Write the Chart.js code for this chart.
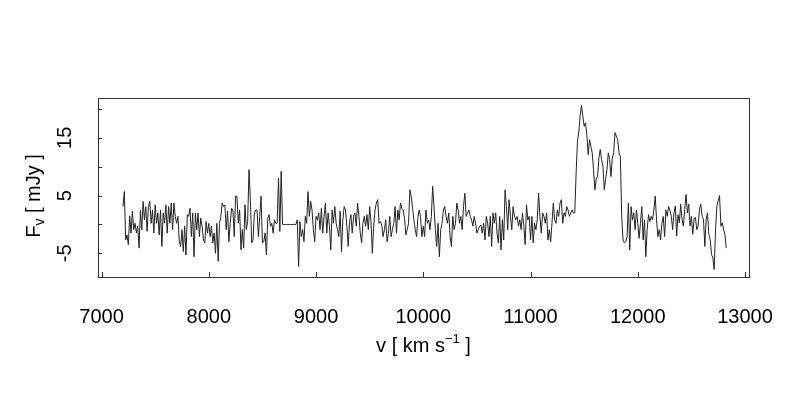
<!DOCTYPE html>
<html>
<head>
<meta charset="utf-8">
<script src="https://cdn.jsdelivr.net/npm/chart.js@4.4.1/dist/chart.umd.min.js"></script>
<style>
  body { margin: 0; background: #fff; }
  canvas { display: block; }
</style>
</head>
<body>
<canvas id="spectrum" width="800" height="400"></canvas>
<script>
// channel velocities (km/s)
const velocity = [
7200,7212.5,7225,7237.5,7250,7262.5,7275,7287.5,
7300,7312.5,7325,7337.5,7350,7362.5,7375,7387.5,
7400,7412.5,7425,7437.5,7450,7462.5,7475,7487.5,
7500,7512.5,7525,7537.5,7550,7562.5,7575,7587.5,
7600,7612.5,7625,7637.5,7650,7662.5,7675,7687.5,
7700,7712.5,7725,7737.5,7750,7762.5,7775,7787.5,
7800,7812.5,7825,7837.5,7850,7862.5,7875,7887.5,
7900,7912.5,7925,7937.5,7950,7962.5,7975,7987.5,
8000,8012.5,8025,8037.5,8050,8062.5,8075,8087.5,
8100,8112.5,8125,8137.5,8150,8162.5,8175,8187.5,
8200,8212.5,8225,8237.5,8250,8262.5,8275,8287.5,
8300,8312.5,8325,8337.5,8350,8362.5,8375,8387.5,
8400,8412.5,8425,8437.5,8450,8462.5,8475,8487.5,
8500,8512.5,8525,8537.5,8550,8562.5,8575,8587.5,
8600,8612.5,8625,8637.5,8650,8662.5,8675,8687.5,
8700,8712.5,8725,8737.5,8750,8762.5,8775,8787.5,
8800,8812.5,8825,8837.5,8850,8862.5,8875,8887.5,
8900,8912.5,8925,8937.5,8950,8962.5,8975,8987.5,
9000,9012.5,9025,9037.5,9050,9062.5,9075,9087.5,
9100,9112.5,9125,9137.5,9150,9162.5,9175,9187.5,
9200,9212.5,9225,9237.5,9250,9262.5,9275,9287.5,
9300,9312.5,9325,9337.5,9350,9362.5,9375,9387.5,
9400,9412.5,9425,9437.5,9450,9462.5,9475,9487.5,
9500,9512.5,9525,9537.5,9550,9562.5,9575,9587.5,
9600,9612.5,9625,9637.5,9650,9662.5,9675,9687.5,
9700,9712.5,9725,9737.5,9750,9762.5,9775,9787.5,
9800,9812.5,9825,9837.5,9850,9862.5,9875,9887.5,
9900,9912.5,9925,9937.5,9950,9962.5,9975,9987.5,
10000,10012.5,10025,10037.5,10050,10062.5,10075,10087.5,
10100,10112.5,10125,10137.5,10150,10162.5,10175,10187.5,
10200,10212.5,10225,10237.5,10250,10262.5,10275,10287.5,
10300,10312.5,10325,10337.5,10350,10362.5,10375,10387.5,
10400,10412.5,10425,10437.5,10450,10462.5,10475,10487.5,
10500,10512.5,10525,10537.5,10550,10562.5,10575,10587.5,
10600,10612.5,10625,10637.5,10650,10662.5,10675,10687.5,
10700,10712.5,10725,10737.5,10750,10762.5,10775,10787.5,
10800,10812.5,10825,10837.5,10850,10862.5,10875,10887.5,
10900,10912.5,10925,10937.5,10950,10962.5,10975,10987.5,
11000,11012.5,11025,11037.5,11050,11062.5,11075,11087.5,
11100,11112.5,11125,11137.5,11150,11162.5,11175,11187.5,
11200,11212.5,11225,11237.5,11250,11262.5,11275,11287.5,
11300,11312.5,11325,11337.5,11350,11362.5,11375,11387.5,
11400,11412.5,11425,11437.5,11450,11462.5,11475,11487.5,
11500,11512.5,11525,11537.5,11550,11562.5,11575,11587.5,
11600,11612.5,11625,11637.5,11650,11662.5,11675,11687.5,
11700,11712.5,11725,11737.5,11750,11762.5,11775,11787.5,
11800,11812.5,11825,11837.5,11850,11862.5,11875,11887.5,
11900,11912.5,11925,11937.5,11950,11962.5,11975,11987.5,
12000,12012.5,12025,12037.5,12050,12062.5,12075,12087.5,
12100,12112.5,12125,12137.5,12150,12162.5,12175,12187.5,
12200,12212.5,12225,12237.5,12250,12262.5,12275,12287.5,
12300,12312.5,12325,12337.5,12350,12362.5,12375,12387.5,
12400,12412.5,12425,12437.5,12450,12462.5,12475,12487.5,
12500,12512.5,12525,12537.5,12550,12562.5,12575,12587.5,
12600,12612.5,12625,12637.5,12650,12662.5,12675,12687.5,
12700,12712.5,12725,12737.5,12750,12762.5,12775,12787.5,
12800,12812.5,12825
];

// flux density per channel (mJy)
const flux = [
3.1, 5.7, -2.7, -1.8, -3.5, 1.5, -1.5, 2.3, -0.9, 0.2,
-1.5, -0.3, -4.1, 2.5, -0.9, 4.0, 0.8, 3.1, -1.2, 3.1,
4.0, 0.2, 2.5, -1.5, 3.4, 0.2, 2.0, -1.8, 2.5, -3.8,
2.0, 0.2, 3.4, -1.5, 3.1, 0.2, 3.7, -0.9, 3.7, 1.4,
0.2, 1.4, -3.0, -3.8, -0.9, -4.7, -0.3, -5.3, 1.7, 1.4,
2.8, -2.1, 2.0, -5.6, 2.0, -0.9, 2.0, -2.1, 1.1, -0.3,
-2.7, -3.2, 0.5, -1.5, 0.2, -2.1, -0.3, -3.2, -1.5, -5.0,
0.2, -6.4, 0.2, 1.4, 3.7, 3.1, 3.4, -0.9, 2.3, -3.0,
0.2, 2.8, 2.5, -2.1, 4.9, 4.9, 0.2, 2.5, -4.4, -0.9,
-4.1, 3.4, -0.9, 0.5, 9.5, 4.3, -3.2, -2.7, 2.0, 2.5,
2.5, -2.1, 1.4, 4.9, -3.2, -3.0, -1.5, -5.3, 1.1, 1.7,
-0.3, 0.2, -1.5, 0.8, 0.2, 0.2, 8.0, -1.2, 9.2,
0, 0, 0, 0, 0, 0, 0, 0, 0, 0, 0,
0.8, -7.3, 0.5, -2.1, -0.9, -3.0, 1.4, 0.2, 5.7, 1.4,
4.0, 2.5, -0.9, -3.0, 1.4, 0.8, 2.0, -0.9, 2.8, -1.5,
1.4, 3.7, -1.5, 2.0, -0.3, -4.4, 2.5, 0.2, 3.1, 0.2,
-0.9, -2.1, 2.3, -4.7, 0.8, 3.1, 2.5, -0.3, -3.8, 0.5,
1.7, -1.5, 1.4, 2.0, -0.3, 3.7, 1.4, -1.5, -3.2, 0.2,
1.4, -0.3, 1.7, -0.9, 3.1, 0.5, -5.0, -0.3, 2.5, 3.7,
4.3, 0.2, 0.5, -0.1, -2.1, -0.9, 0.8, -3.0, -1.5, 1.4,
-2.1, -0.9, 0.2, 3.1, -1.5, 2.5, 0.8, 3.7, 2.8, 2.5,
1.1, -1.8, -0.9, 0.2, 6.0, 4.9, 2.8, 0.8, -0.9, -2.1,
1.4, 2.5, 1.1, -2.1, -0.3, -2.1, 2.5, 0.2, 0.8, -0.9,
1.4, 6.6, 3.1, -0.9, -3.8, 0.2, -5.6, -0.9, 0.2, 2.5,
3.1, 1.4, 0.2, 2.0, -2.1, -3.8, 1.4, -0.9, 0.2, 3.7,
2.5, 0.2, 1.4, -0.9, 3.1, 5.4, 1.4, 2.0, 2.5, 1.4,
0.8, -0.3, 1.4, 0.2, -1.5, -0.9, -0.3,
-0.1, -1.5, 0.2, -2.7, 1.4, 0.2, -2.1, 1.4, -3.8, 2.0,
0.2, 2.0, -1.5, -3.2, 1.4, -4.4, 0.8, -2.7, 6.0, 3.1,
-0.9, 4.3, 1.4, -0.9, 3.1, 1.4, 0.8, 1.4, -0.3, 0.8,
-0.9, 2.0, -0.3, -3.5, 3.4, 0.8, 1.4, -2.7, 1.4, -3.2,
0.2, -0.9, 0.8, 5.4, 1.4, -1.5, 2.0, 1.4, 0.2, 2.0,
-2.7, -0.9, -3.0, 0.2, 3.7, 0.8, 0.2, 2.5, 1.4, 3.7,
4.3, 0.2, 2.0, 1.4, 3.1, 2.5, 1.4, 2.0, 2.5, 2.0,
2.0, 8.9, 14.4, 16.0, 18.8, 20.6, 18.8, 17.0, 17.6, 15.6,
12.1, 14.7, 13.5, 12.4, 9.5, 6.0, 7.8, 8.3, 11.5, 13.0,
11.2, 10.1, 6.0, 7.8, 9.5, 12.4, 11.2, 8.3, 11.5, 12.4,
15.9, 15.3, 14.7, 12.4, 11.8, 1.4, -2.7, -3.2, -3.0, -2.1,
3.7, -4.4, 3.1, 0.8, 2.0, -0.9, 2.5, 0.2, -2.4, 0.2,
3.1, -2.7, 0.8, -5.6, -0.9, 1.7, 0.5, 1.4, 0.8, 2.5,
4.9, 0.8, -2.1, -0.9, -2.7, 0.2, 1.4, -2.1, 2.5, 1.4,
3.1, 2.5,
1.4, -0.9, 2.0, 3.2, -2.0, 1.7, 0.3, 3.5, 0.9, -0.3,
2.6, 5.2, 2.0, 3.5, -0.3, 1.4, -1.7, 0.9, 1.2, -0.9,
-0.3, 2.6, 3.5, 1.4, 0.9, -3.8, 0.9, 2.0, -1.7, -2.6,
-5.2, -5.8, -7.8, -0.9, 3.2, 4.1, 5.0, -0.3, 0.3, -0.9,
-1.7, -4.1
];

const xTicks = [7000, 8000, 9000, 10000, 11000, 12000, 13000];
const yTicks = [-5, 0, 5, 10, 15, 20];
const yLabels = [-5, 5, 15];

const FONT = '"Liberation Sans", Arial, sans-serif';

// draw a string made of pieces with different sizes / baseline shifts, centred on 0
function drawPieces(ctx, pieces) {
    let total = 0;
    pieces.forEach(p => {
        ctx.font = p.size + 'px ' + FONT;
        p.w = ctx.measureText(p.text).width;
        total += p.w;
    });
    let cx = -total / 2;
    ctx.textAlign = 'left';
    ctx.textBaseline = 'alphabetic';
    pieces.forEach(p => {
        ctx.font = p.size + 'px ' + FONT;
        ctx.fillText(p.text, cx, p.dy);
        cx += p.w;
    });
}

const framePlugin = {
    id: 'frame',
    afterDraw(chart) {
        const ctx = chart.ctx;
        const a = chart.chartArea;
        const x = chart.scales.x;
        const y = chart.scales.y;
        ctx.save();
        ctx.strokeStyle = '#333';
        ctx.lineWidth = 1;
        ctx.strokeRect(Math.round(a.left) + 0.5, Math.round(a.top) + 0.5,
            Math.round(a.right - a.left), Math.round(a.bottom - a.top));

        // inward tick marks
        ctx.beginPath();
        xTicks.forEach(v => {
            const px = Math.round(x.getPixelForValue(v)) + 0.5;
            ctx.moveTo(px, a.bottom);
            ctx.lineTo(px, a.bottom - 5);
        });
        yTicks.forEach(v => {
            const py = Math.round(y.getPixelForValue(v)) + 0.5;
            ctx.moveTo(a.left, py);
            ctx.lineTo(a.left + 4, py);
        });
        ctx.stroke();

        ctx.fillStyle = '#000';
        // y tick labels, parallel to the axis
        ctx.font = '20px ' + FONT;
        ctx.textAlign = 'center';
        ctx.textBaseline = 'alphabetic';
        yLabels.forEach(v => {
            ctx.save();
            ctx.translate(71, y.getPixelForValue(v));
            ctx.rotate(-Math.PI / 2);
            ctx.fillText(String(v), 0, 0);
            ctx.restore();
        });

        // y title
        ctx.save();
        ctx.translate(40, 196);
        ctx.rotate(-Math.PI / 2);
        drawPieces(ctx, [
            {text: 'F', size: 20, dy: 0},
            {text: 'v', size: 14, dy: 4},
            {text: ' [ mJy ]', size: 20, dy: 0}
        ]);
        ctx.restore();

        // x title
        ctx.save();
        ctx.translate((a.left + a.right) / 2, 352);
        drawPieces(ctx, [
            {text: 'v [ km s', size: 20, dy: 0},
            {text: '\u22121', size: 13, dy: -9},
            {text: ' ]', size: 20, dy: 0}
        ]);
        ctx.restore();
        ctx.restore();
    }
};

const points = velocity.map((v, i) => ({x: v, y: flux[i]}));

new Chart(document.getElementById('spectrum'), {
    type: 'line',
    data: {
        datasets: [{
            data: points,
            borderColor: '#222',
            borderWidth: 1,
            pointRadius: 0,
            tension: 0,
            fill: false
        }]
    },
    options: {
        responsive: false,
        animation: false,
        layout: {
            padding: {left: 0, top: 98, right: 51, bottom: 0}
        },
        plugins: {
            legend: {display: false},
            tooltip: {enabled: false}
        },
        scales: {
            x: {
                type: 'linear',
                min: 6967,
                max: 13037,
                afterBuildTicks: s => { s.ticks = xTicks.map(v => ({value: v})); },
                afterFit: s => { s.height = 123; },
                grid: {display: false},
                border: {display: false},
                ticks: {
                    color: '#000',
                    padding: 20,
                    maxRotation: 0,
                    font: {family: FONT, size: 20},
                    callback: v => String(v)
                }
            },
            y: {
                type: 'linear',
                min: -9.1,
                max: 21.9,
                afterFit: s => { s.width = 98; },
                grid: {display: false},
                border: {display: false},
                ticks: {display: false}
            }
        }
    },
    plugins: [framePlugin]
});
</script>
</body>
</html>
